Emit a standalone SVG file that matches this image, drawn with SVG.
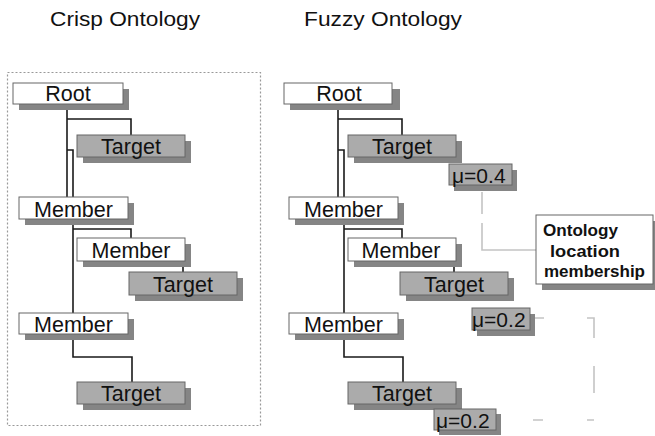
<svg xmlns="http://www.w3.org/2000/svg" width="655" height="436" viewBox="0 0 655 436">
<style>
.title{font-family:"Liberation Sans",Arial,sans-serif;font-size:21px;fill:#111}
.lbl{font-family:"Liberation Sans",Arial,sans-serif;font-size:21.5px;fill:#111;text-anchor:middle}
.mu{font-family:"Liberation Sans",Arial,sans-serif;font-size:21px;fill:#111}
.note{font-family:"Liberation Sans",Arial,sans-serif;font-size:16.5px;font-weight:bold;fill:#111}
.sh{fill:#858585}
.w{fill:#fff;stroke:#666;stroke-width:1}
.g{fill:#ababab;stroke:#666;stroke-width:1}
.ln{fill:none;stroke:#1a1a1a;stroke-width:1.6}
.dl{fill:none;stroke:#c4c4c4;stroke-width:1.6}
.frame{fill:none;stroke:#999;stroke-width:1.2;stroke-dasharray:2 2}
</style>
<rect width="655" height="436" fill="#fff"/>
<text class="title" x="50" y="26" textLength="150" lengthAdjust="spacingAndGlyphs">Crisp Ontology</text>
<text class="title" x="304" y="26" textLength="158" lengthAdjust="spacingAndGlyphs">Fuzzy Ontology</text>
<rect class="frame" x="7.5" y="72.5" width="253" height="353"/>

<g id="connectors">
  <g id="crisp-links">
    <path class="ln" d="M67,104V197"/>
    <path class="ln" d="M67,119H131V135"/>
    <path class="ln" d="M67,150H73V197"/>
    <path class="ln" d="M73,219V313"/>
    <path class="ln" d="M73,229H131V238"/>
    <path class="ln" d="M131,261V265H183V272"/>
    <path class="ln" d="M73,334V357H132V382"/>
  </g>
  <g id="fuzzy-links" transform="translate(271,0)">
    <path class="ln" d="M67,104V197"/>
    <path class="ln" d="M67,119H131V135"/>
    <path class="ln" d="M67,150H73V197"/>
    <path class="ln" d="M73,219V313"/>
    <path class="ln" d="M73,229H131V238"/>
    <path class="ln" d="M131,261V265H183V272"/>
    <path class="ln" d="M73,334V357H132V382"/>
  </g>
  <path class="dl" d="M482,186V250H536" stroke-dasharray="0 6 22 9 200"/>
  <path class="dl" d="M531,318H594V420H497" stroke-dasharray="0 4 9 43 27 28 27 27 7 44 10 100"/>
</g>

<g id="crisp-root"><rect class="sh" x="19" y="89" width="110" height="21"/><rect class="w" x="13" y="83" width="110" height="21"/><text class="lbl" x="68" y="101">Root</text></g>
<g id="crisp-target1"><rect class="sh" x="83" y="141" width="108" height="22"/><rect class="g" x="77" y="135" width="108" height="22"/><text class="lbl" x="131" y="154">Target</text></g>
<g id="crisp-member1"><rect class="sh" x="25" y="203" width="109" height="22"/><rect class="w" x="19" y="197" width="109" height="22"/><text class="lbl" x="73.5" y="216.5">Member</text></g>
<g id="crisp-member-sub"><rect class="sh" x="83" y="244" width="108" height="23"/><rect class="w" x="77" y="238" width="108" height="23"/><text class="lbl" x="131" y="258">Member</text></g>
<g id="crisp-target2"><rect class="sh" x="135" y="278" width="108" height="23"/><rect class="g" x="129" y="272" width="108" height="23"/><text class="lbl" x="183" y="292">Target</text></g>
<g id="crisp-member2"><rect class="sh" x="25" y="319" width="109" height="21"/><rect class="w" x="19" y="313" width="109" height="21"/><text class="lbl" x="73.5" y="332">Member</text></g>
<g id="crisp-target3"><rect class="sh" x="83" y="388" width="108" height="22"/><rect class="g" x="77" y="382" width="108" height="22"/><text class="lbl" x="131" y="401">Target</text></g>

<g id="fuzzy-root"><rect class="sh" x="290" y="89" width="110" height="21"/><rect class="w" x="284" y="83" width="108" height="21"/><text class="lbl" x="339" y="101">Root</text></g>
<g id="fuzzy-target1"><rect class="sh" x="354" y="141" width="108" height="22"/><rect class="g" x="348" y="135" width="108" height="22"/><text class="lbl" x="402" y="154">Target</text></g>
<g id="fuzzy-member1"><rect class="sh" x="295" y="203" width="109" height="22"/><rect class="w" x="289" y="197" width="109" height="22"/><text class="lbl" x="343.5" y="216.5">Member</text></g>
<g id="fuzzy-member-sub"><rect class="sh" x="354" y="244" width="108" height="23"/><rect class="w" x="348" y="238" width="108" height="23"/><text class="lbl" x="401" y="258">Member</text></g>
<g id="fuzzy-target2"><rect class="sh" x="406" y="278" width="108" height="23"/><rect class="g" x="400" y="272" width="108" height="23"/><text class="lbl" x="454" y="292">Target</text></g>
<g id="fuzzy-member2"><rect class="sh" x="295" y="319" width="109" height="21"/><rect class="w" x="289" y="313" width="109" height="21"/><text class="lbl" x="343.5" y="332">Member</text></g>
<g id="fuzzy-target3"><rect class="sh" x="354" y="388" width="108" height="22"/><rect class="g" x="348" y="382" width="108" height="22"/><text class="lbl" x="402" y="401">Target</text></g>

<g id="mu1"><rect class="sh" x="454" y="170" width="63" height="21"/><rect class="g" x="449" y="164" width="63" height="21"/><text class="mu" x="452" y="183">μ=0.4</text></g>
<g id="mu2"><rect class="sh" x="477" y="314" width="58" height="22"/><rect class="g" x="472" y="308" width="58" height="22"/><text class="mu" x="472" y="327">μ=0.2</text></g>
<g id="mu3"><rect class="sh" x="439" y="414" width="62" height="21"/><rect class="g" x="434" y="409" width="62" height="21"/><text class="mu" x="436" y="428">μ=0.2</text></g>

<g id="legend"><rect class="sh" x="542" y="221" width="117" height="69"/><rect class="w" x="536" y="215" width="117" height="69"/>
<text class="note" x="543" y="236" textLength="75" lengthAdjust="spacingAndGlyphs">Ontology</text>
<text class="note" x="550" y="257" textLength="70" lengthAdjust="spacingAndGlyphs">location</text>
<text class="note" x="544" y="277" textLength="101" lengthAdjust="spacingAndGlyphs">membership</text></g>
</svg>
